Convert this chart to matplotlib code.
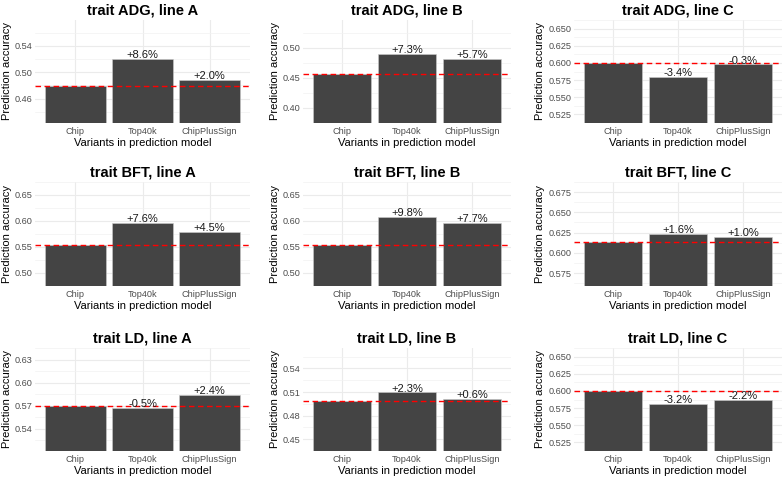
import numpy as np
import matplotlib
matplotlib.use("Agg")
import matplotlib.pyplot as plt

plt.rcParams['font.family'] = ['Liberation Sans', 'DejaVu Sans']

variants = ["Chip", "Top40k", "ChipPlusSign"]
titles = ["trait ADG, line A", "trait ADG, line B", "trait ADG, line C",
          "trait BFT, line A", "trait BFT, line B", "trait BFT, line C",
          "trait LD, line A", "trait LD, line B", "trait LD, line C"]

# accuracy per panel: Chip, Top40k, ChipPlusSign
acc_chip = [0.479, 0.4557, 0.5995, 0.5537, 0.5538, 0.6139, 0.5700, 0.4980, 0.5998]
acc_top40k = [0.5202, 0.4890, 0.5791, 0.5958, 0.6081, 0.6237, 0.5672, 0.5095, 0.5806]
acc_cps = [0.4886, 0.4817, 0.5977, 0.5786, 0.5964, 0.6200, 0.5837, 0.5010, 0.5866]
pct_top40k = ["+8.6%", "+7.3%", "-3.4%", "+7.6%", "+9.8%", "+1.6%", "-0.5%", "+2.3%", "-3.2%"]
pct_cps = ["+2.0%", "+5.7%", "-0.3%", "+4.5%", "+7.7%", "+1.0%", "+2.4%", "+0.6%", "-2.2%"]

y_ticks = [[0.46, 0.50, 0.54], [0.40, 0.45, 0.50], [0.525, 0.55, 0.575, 0.60, 0.625, 0.65],
           [0.50, 0.55, 0.60, 0.65], [0.50, 0.55, 0.60, 0.65], [0.575, 0.60, 0.625, 0.65, 0.675],
           [0.54, 0.57, 0.60, 0.63], [0.45, 0.48, 0.51, 0.54], [0.525, 0.55, 0.575, 0.60, 0.625, 0.65]]
y_fmt = ["%.2f", "%.2f", "%.3f", "%.2f", "%.2f", "%.3f", "%.2f", "%.2f", "%.3f"]
y_lims = [(0.423, 0.579), (0.398, 0.546), (0.5245, 0.6555),
          (0.497, 0.654), (0.4955, 0.669), (0.559, 0.680),
          (0.511, 0.638), (0.443, 0.566), (0.5245, 0.6555)]

W, H = 784, 478
fig = plt.figure(figsize=(W / 100, H / 100), dpi=100)
fig.patch.set_facecolor('white')

cols = [(35, 250), (303, 511), (574, 782)]
rows = [(20, 123), (182, 286), (348, 451)]

for i in range(9):
    r, c = divmod(i, 3)
    x0, x1 = cols[c]
    t0, b0 = rows[r]
    ax = fig.add_axes([x0 / W, 1 - b0 / H, (x1 - x0) / W, (b0 - t0) / H])
    vals = [acc_chip[i], acc_top40k[i], acc_cps[i]]
    xs = np.arange(len(variants))
    ax.bar(xs, vals, width=0.9, color='#444444', edgecolor='#cccccc', linewidth=0.4, zorder=2)
    ax.axhline(acc_chip[i], color='red', linestyle=(0, (4, 2.5)), linewidth=1.0, zorder=3)
    for x, v, lab in zip(xs[1:], vals[1:], [pct_top40k[i], pct_cps[i]]):
        ax.annotate(lab, (x, v), xytext=(0, -0.8), textcoords='offset points',
                    ha='center', va='bottom', fontsize=8, color='#1a1a1a', zorder=4)
    ax.set_xlim(-0.6, 2.6)
    ax.set_ylim(*y_lims[i])
    ticks = y_ticks[i]
    ax.set_yticks(ticks)
    ax.set_yticklabels([y_fmt[i] % t for t in ticks])
    step = ticks[1] - ticks[0]
    minors = [t - step / 2 for t in ticks] + [ticks[-1] + step / 2]
    ax.set_yticks(minors, minor=True)
    ax.set_xticks(xs)
    ax.set_xticklabels(variants)
    ax.grid(True, which='major', color='#ebebeb', linewidth=0.8, zorder=0)
    ax.grid(True, which='minor', axis='y', color='#f2f2f2', linewidth=0.5, zorder=0)
    ax.set_axisbelow(True)
    for s in ax.spines.values():
        s.set_visible(False)
    ax.tick_params(axis='both', which='both', length=0, labelsize=6.6, labelcolor='#4d4d4d')
    ax.tick_params(axis='x', pad=3)
    ax.tick_params(axis='y', pad=2)
    ax.set_title(titles[i], fontsize=10.5, fontweight='bold', pad=4)
    ax.set_xlabel("Variants in prediction model", fontsize=8, labelpad=1.5)
    ax.set_ylabel("Prediction accuracy", fontsize=8, labelpad=2)

fig.savefig("out.png", dpi=100)
